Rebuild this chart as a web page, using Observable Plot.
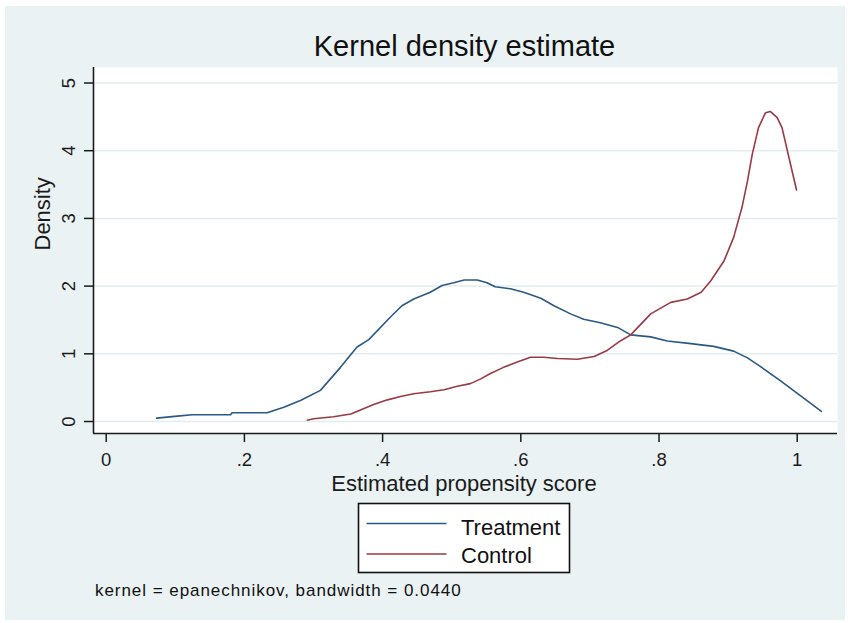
<!DOCTYPE html>
<html><head><meta charset="utf-8">
<script src="https://cdn.jsdelivr.net/npm/d3@7"></script>
<script src="https://cdn.jsdelivr.net/npm/@observablehq/plot@0.6"></script>
<style>
body{margin:0;background:#fff;}
#wrap{position:relative;width:848px;height:623px;background:#fff;overflow:hidden;font-family:"Liberation Sans",Arial,sans-serif;}
#bg{position:absolute;left:5px;top:6px;width:840px;height:614px;background:#eaf2f3;}
#chart{position:absolute;left:0;top:0;}
#chart svg{display:block;}
#over{position:absolute;left:0;top:0;}
</style>
</head><body>
<div id="wrap"><div id="bg"></div><div id="chart"></div>
<svg id="over" width="848" height="623" font-family="Liberation Sans, Arial, sans-serif" fill="#111">
  <text id="title" x="464.5" y="56" text-anchor="middle" font-size="29">Kernel density estimate</text>
  <rect x="358.5" y="503.5" width="211" height="69" fill="#fff" stroke="#111" stroke-width="1.6"></rect>
  <line x1="366.5" x2="446.5" y1="523.5" y2="523.5" stroke="#2a5985" stroke-width="1.6"></line>
  <line x1="366.5" x2="446.5" y1="554" y2="554" stroke="#9a3a44" stroke-width="1.6"></line>
  <text x="461" y="535" font-size="22">Treatment</text>
  <text x="461" y="562.7" font-size="22">Control</text>
  <text x="95" y="596" font-size="17" letter-spacing="0.95">kernel = epanechnikov, bandwidth = 0.0440</text>
</svg>
</div>
<script>
// ---- data ----
const xTicks = [0, 0.2, 0.4, 0.6, 0.8, 1];
const xTickLabels = ["0", ".2", ".4", ".6", ".8", "1"];
const yTicks = [0, 1, 2, 3, 4, 5];
const yTickLabels = ["0", "1", "2", "3", "4", "5"];
const xDomain = [-0.0184, 1.0583];
const yDomain = [-0.177, 5.229];

const treatmentX = [0.073,0.103,0.124,0.18,0.182,0.233,0.257,0.281,0.31,0.339,0.363,0.38,0.411,0.428,0.445,0.469,0.486,0.503,0.518,0.537,0.551,0.563,0.585,0.604,0.629,0.648,0.672,0.691,0.715,0.74,0.759,0.788,0.812,0.846,0.879,0.908,0.928,0.947,0.976,1.005,1.035];
const treatmentY = [0.05,0.08,0.10,0.10,0.13,0.13,0.21,0.31,0.46,0.80,1.10,1.21,1.54,1.71,1.81,1.91,2.01,2.05,2.09,2.09,2.05,1.99,1.96,1.91,1.82,1.71,1.59,1.51,1.46,1.39,1.28,1.25,1.19,1.15,1.11,1.04,0.94,0.81,0.60,0.38,0.15];
const controlX = [0.291,0.30,0.329,0.354,0.368,0.387,0.407,0.426,0.445,0.469,0.489,0.508,0.527,0.542,0.556,0.575,0.595,0.614,0.633,0.653,0.682,0.706,0.725,0.744,0.759,0.788,0.817,0.841,0.861,0.875,0.894,0.908,0.92,0.928,0.935,0.944,0.954,0.961,0.971,0.978,0.988,0.999];
const controlY = [0.02,0.04,0.07,0.11,0.17,0.25,0.32,0.37,0.41,0.44,0.47,0.52,0.56,0.63,0.71,0.80,0.88,0.95,0.95,0.93,0.92,0.96,1.05,1.19,1.28,1.59,1.76,1.81,1.91,2.08,2.37,2.72,3.16,3.55,3.95,4.34,4.56,4.58,4.49,4.34,3.90,3.42];

const treatment = treatmentX.map((x, i) => ({x, y: treatmentY[i]}));
const control = controlX.map((x, i) => ({x, y: controlY[i]}));

const ink = "#1b1b1b";
const chart = Plot.plot({
  width: 848, height: 623,
  marginLeft: 93, marginRight: 11, marginTop: 67, marginBottom: 190,
  style: {background: "transparent", fontFamily: "Liberation Sans, Arial, sans-serif", color: ink},
  x: {domain: xDomain},
  y: {domain: yDomain},
  marks: [
    Plot.frame({fill: "white", stroke: null}),
    Plot.gridY(yTicks, {stroke: "#e3ecef", strokeOpacity: 1, strokeWidth: 1.5}),
    Plot.line(treatment, {x: "x", y: "y", stroke: "#2a5985", strokeWidth: 1.6}),
    Plot.line(control, {x: "x", y: "y", stroke: "#9a3a44", strokeWidth: 1.6}),
    Plot.ruleX([xDomain[0]], {stroke: ink, strokeWidth: 1.6}),
    Plot.ruleY([yDomain[0]], {stroke: ink, strokeWidth: 1.6}),
    Plot.axisX(xTicks, {tickFormat: (d, i) => xTickLabels[i], tickSize: 9, tickPadding: 10, fontSize: 18.5, stroke: ink, strokeWidth: 1.5, label: null}),
    Plot.axisY(yTicks, {tickFormat: (d, i) => yTickLabels[i], tickSize: 9, tickPadding: 10, fontSize: 18.5, tickRotate: -90, stroke: ink, strokeWidth: 1.5, label: null}),
    Plot.text(["Estimated propensity score"], {frameAnchor: "bottom", dx: -1.5, dy: 57, lineAnchor: "bottom", fontSize: 22, fill: ink}),
    Plot.text(["Density"], {frameAnchor: "left", rotate: -90, dx: -44, lineAnchor: "bottom", fontSize: 22, fill: ink})
  ]
});
document.getElementById("chart").appendChild(chart);
</script>
</body></html>
